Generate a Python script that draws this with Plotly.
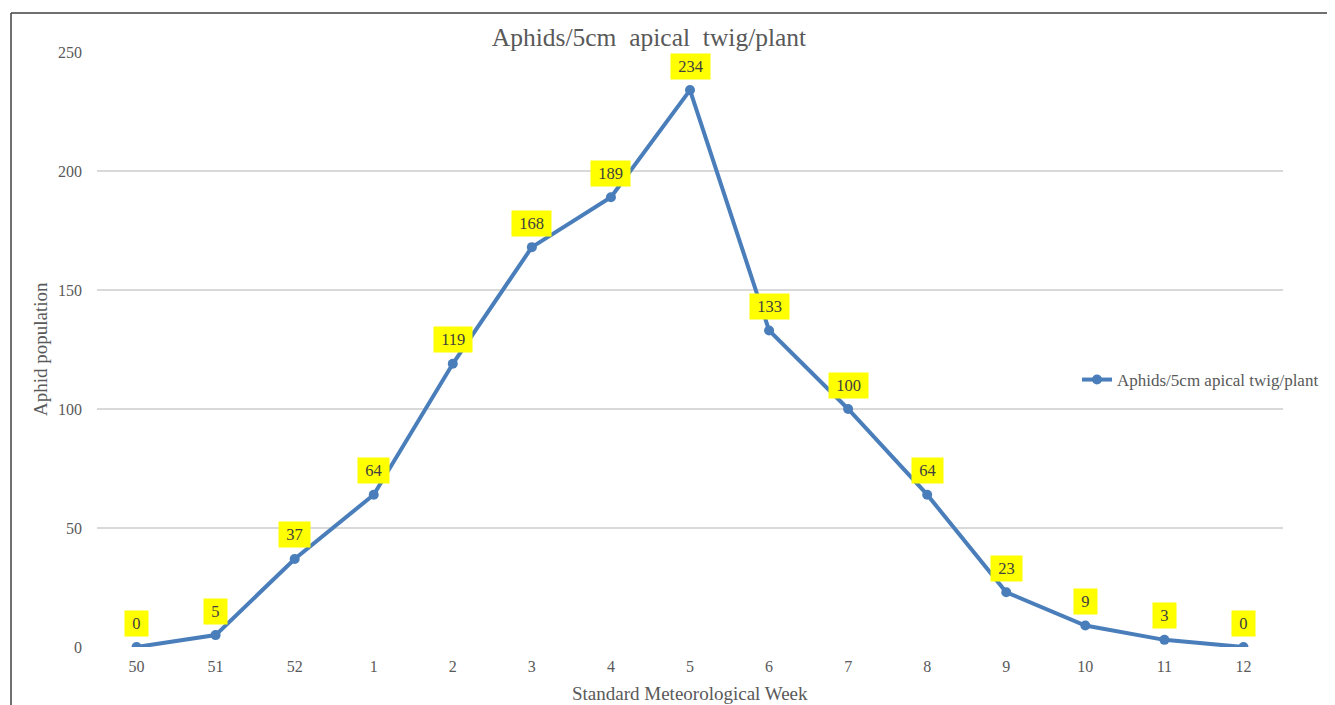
import plotly.graph_objects as go

weeks = ["50", "51", "52", "1", "2", "3", "4", "5", "6", "7", "8", "9", "10", "11", "12"]
aphids = [0, 5, 37, 64, 119, 168, 189, 234, 133, 100, 64, 23, 9, 3, 0]
series_name = "Aphids/5cm apical twig/plant"

OFF = 8  # page body margin
W, H = 1335 - OFF, 705 - OFF
L, T = 97 - OFF, 52 - OFF
R = W - (1283 - OFF)
B = H - (647 - OFF)
pw, ph = W - L - R, H - T - B

def px_x(px):
    return (px - OFF - L) / pw

def px_y(py):
    return (H - B - (py - OFF)) / ph

blue = "#4a7ebb"
grey = "#595959"
font = "Liberation Serif"

fig = go.Figure()
fig.add_trace(go.Scatter(
    x=weeks, y=aphids, mode="lines+markers", name=series_name,
    line=dict(color=blue, width=4),
    marker=dict(color=blue, size=10),
))

for i, v in enumerate(aphids):
    fig.add_annotation(
        x=i, y=v, xref="x", yref="y", text=" " + str(v) + " ", showarrow=False,
        yshift=24, bgcolor="#ffff00", borderpad=3,
        font=dict(family=font, size=16.5, color="#404040"),
    )

fig.add_annotation(
    x=px_x(40), y=px_y(349), xref="paper", yref="paper", text="Aphid population",
    xanchor="center", yanchor="middle",
    textangle=-90, showarrow=False, font=dict(family=font, size=19, color=grey),
)
fig.add_annotation(
    x=px_x(690), y=px_y(693), xref="paper", yref="paper", text="Standard Meteorological Week",
    xanchor="center", yanchor="middle",
    showarrow=False, font=dict(family=font, size=19, color=grey),
)

# frame lines (top and left)
fig.add_shape(type="line", xref="paper", yref="paper",
              x0=px_x(11), x1=px_x(W + 20), y0=px_y(13), y1=px_y(13),
              line=dict(color="#404040", width=1.5))
fig.add_shape(type="line", xref="paper", yref="paper",
              x0=px_x(11), x1=px_x(11), y0=px_y(13), y1=px_y(H + 20),
              line=dict(color="#404040", width=1.5))

fig.update_layout(
    width=W, height=H,
    margin=dict(l=L, r=R, t=T, b=B, autoexpand=False),
    paper_bgcolor="white", plot_bgcolor="white",
    font=dict(family=font, color=grey),
    title=dict(text="Aphids/5cm  apical  twig/plant", x=(649 - OFF) / W, xanchor="center",
               y=1 - (37 - OFF) / H, yanchor="middle", xref="container", yref="container",
               font=dict(family=font, size=25.5, color=grey)),
    showlegend=True,
    legend=dict(x=px_x(1077), y=px_y(380), xanchor="left", yanchor="middle",
                font=dict(family=font, size=17, color=grey), bgcolor="rgba(0,0,0,0)"),
    xaxis=dict(type="category", range=[-0.5, len(weeks) - 0.5], showgrid=False,
               showline=False, zeroline=False, ticks="",
               tickfont=dict(family=font, size=16, color=grey), ticklabelstandoff=8),
    yaxis=dict(range=[0, 250], dtick=50, showgrid=True, gridcolor="#d9d9d9", gridwidth=1.5,
               zeroline=False, showline=False, ticks="",
               tickfont=dict(family=font, size=16, color=grey), ticklabelstandoff=14),
)

fig.write_html("out.html")
